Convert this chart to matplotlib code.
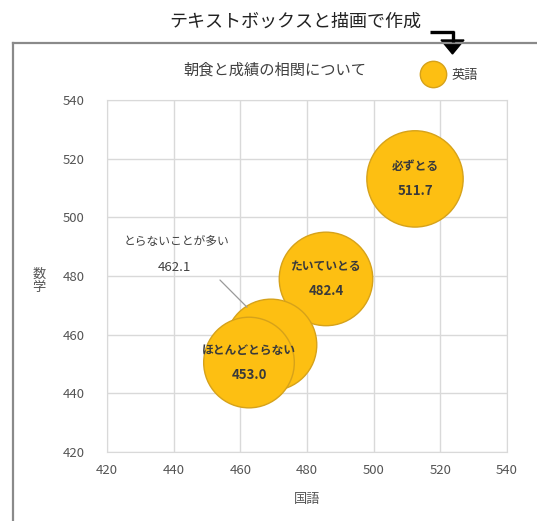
import matplotlib.pyplot as plt
from matplotlib.lines import Line2D
from matplotlib.patches import Polygon

plt.rcParams['font.family'] = ['Noto Sans CJK JP', 'DejaVu Sans']

# 朝食の頻度ごとの平均点（国語・数学・英語）
groups = ['必ずとる', 'たいていとる', 'とらないことが多い', 'ほとんどとらない']
kokugo = [512.4, 485.7, 469.2, 462.6]
sugaku = [513.1, 479.0, 456.5, 450.5]
eigo = [511.7, 482.4, 462.1, 453.0]
ticks = [420, 440, 460, 480, 500, 520, 540]

W, H = 537, 521
fig = plt.figure(figsize=(W / 100, H / 100), dpi=100)


def fx(x):
    return x / W


def fy(y):
    return 1 - y / H


ax = fig.add_axes([fx(107), fy(452), fx(507) - fx(107), fy(100) - fy(452)])

text_col = '#404040'
ax.scatter(kokugo, sugaku, s=[v * 9.4 for v in eigo], c='#FDBF12',
           edgecolors='#D6A21A', linewidths=1.0, zorder=3)

for name, x, y, v in zip(groups, kokugo, sugaku, eigo):
    if name == 'とらないことが多い':
        continue
    ax.annotate(name, (x, y), xytext=(0, 9), textcoords='offset points',
                ha='center', va='center', fontsize=8.5, color='#3a3a3a',
                fontweight='semibold', zorder=5)
    ax.annotate(f'{v:.1f}', (x, y), xytext=(0, -9), textcoords='offset points',
                ha='center', va='center', fontsize=9.5, color='#3a3a3a',
                fontweight='semibold', zorder=5)

# 重なったバブルのラベルは引き出し線で外に出す
i = groups.index('とらないことが多い')
ax.annotate('', xy=(kokugo[i] - 6.6, sugaku[i] + 12.2), xytext=(453.3, 479.3),
            arrowprops=dict(arrowstyle='-', color='#9a9a9a', lw=0.9), zorder=4)
ax.text(440.9, 491.6, groups[i], ha='center', va='center', fontsize=8.5,
        color=text_col)
ax.text(440.3, 483.0, f'{eigo[i]:.1f}', ha='center', va='center', fontsize=9.5,
        color=text_col)

ax.set_xlim(420, 540)
ax.set_ylim(420, 540)
ax.set_xticks(ticks)
ax.set_yticks(ticks)
ax.grid(True, color='#d9d9d9', lw=1)
ax.set_axisbelow(True)
for sp in ax.spines.values():
    sp.set_color('#d9d9d9')
ax.tick_params(length=0, labelsize=9.5, labelcolor='#555555')
ax.tick_params(axis='y', pad=16)
ax.tick_params(axis='x', pad=9)

fig.text(fx(307), fy(499), '国語', ha='center', va='center', fontsize=9.5,
         color='#555555')
fig.text(fx(39), fy(281), '数\n学', ha='center', va='center', fontsize=9.5,
         color='#555555', linespacing=0.95)

fig.text(fx(275), fy(70), '朝食と成績の相関について', ha='center', va='center',
         fontsize=11, color=text_col)

# 凡例
fig.add_artist(Line2D([fx(433)], [fy(74)], marker='o', markersize=19,
                      markerfacecolor='#FDBF12', markeredgecolor='#D6A21A',
                      transform=fig.transFigure))
fig.text(fx(452), fy(76), '英語', ha='left', va='center', fontsize=9.5,
         color=text_col)

# グラフ外枠
frame = dict(color='#8a8a8a', lw=1.6, transform=fig.transFigure)
fig.add_artist(Line2D([fx(13), fx(537)], [fy(43), fy(43)], **frame))
fig.add_artist(Line2D([fx(13), fx(13)], [fy(43), fy(521)], **frame))

# 上部の説明テキストと矢印
fig.text(fx(295), fy(22), 'テキストボックスと描画で作成', ha='center',
         va='center', fontsize=13, color='#222222')
arrow = dict(color='black', lw=2.4, transform=fig.transFigure,
             solid_capstyle='butt')
fig.add_artist(Line2D([fx(430), fx(454)], [fy(32), fy(32)], **arrow))
fig.add_artist(Line2D([fx(452.8), fx(452.8)], [fy(31), fy(42)], **arrow))
fig.add_artist(Polygon([(fx(441), fy(40)), (fx(464), fy(40)), (fx(452.5), fy(54))],
                       closed=True, color='black', transform=fig.transFigure))

fig.savefig('out.png', dpi=100)
